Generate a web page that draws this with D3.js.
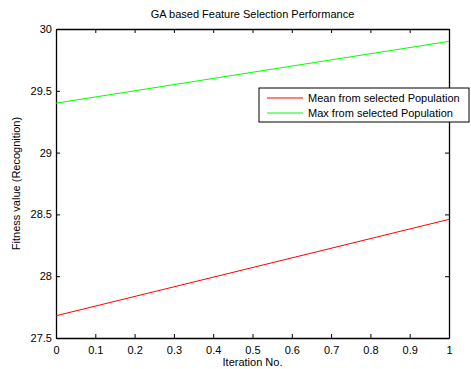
<!DOCTYPE html>
<html>
<head>
<meta charset="utf-8">
<script src="https://cdn.jsdelivr.net/npm/d3@7"></script>
<style>
  body { margin: 0; background: #fff; }
  text { font-family: "Liberation Sans", Arial, sans-serif; }
</style>
</head>
<body>
<div id="chart"></div>
<script>
const iterations = [0, 1];
const meanValues = [27.68, 28.46];
const maxValues = [29.4, 29.9];
const seriesNames = ["Mean from selected Population", "Max from selected Population"];
const xTicks = [0, 0.1, 0.2, 0.3, 0.4, 0.5, 0.6, 0.7, 0.8, 0.9, 1];
const yTicks = [27.5, 28, 28.5, 29, 29.5, 30];

const width = 471, height = 369;
const margin = { left: 56, right: 22, top: 29, bottom: 31 };

const svg = d3.select("#chart").append("svg")
  .attr("width", width)
  .attr("height", height);

const x = d3.scaleLinear().domain([0, 1]).range([margin.left, width - margin.right]);
const y = d3.scaleLinear().domain([27.5, 30]).range([height - margin.bottom, margin.top]);

// axes with inward ticks
const tickLen = 4;
const xAxisBottom = svg.append("g").attr("transform", `translate(0,${y(27.5)})`)
  .call(d3.axisBottom(x).tickValues(xTicks).tickFormat(d3.format("")).tickSizeInner(-tickLen).tickSizeOuter(0).tickPadding(8));
const xAxisTop = svg.append("g").attr("transform", `translate(0,${y(30)})`)
  .call(d3.axisTop(x).tickValues(xTicks).tickFormat("").tickSizeInner(-tickLen).tickSizeOuter(0));
const yAxisLeft = svg.append("g").attr("transform", `translate(${x(0)},0)`)
  .call(d3.axisLeft(y).tickValues(yTicks).tickFormat(d3.format("")).tickSizeInner(-tickLen).tickSizeOuter(0).tickPadding(4));
const yAxisRight = svg.append("g").attr("transform", `translate(${x(1)},0)`)
  .call(d3.axisRight(y).tickValues(yTicks).tickFormat("").tickSizeInner(-tickLen).tickSizeOuter(0));

[xAxisBottom, xAxisTop, yAxisLeft, yAxisRight].forEach(g => {
  g.selectAll(".domain").attr("stroke", "#000").attr("stroke-width", 1.3);
  g.selectAll(".tick line").attr("stroke", "#000");
  g.selectAll(".tick text").attr("font-size", 11).attr("fill", "#000")
    .attr("font-family", "'Liberation Sans', Arial, sans-serif");
});

// lines
const line = d3.line().x((d, i) => x(iterations[i])).y(d => y(d));
svg.append("path").datum(meanValues).attr("d", line)
  .attr("fill", "none").attr("stroke", "#ff0000").attr("stroke-width", 1);
svg.append("path").datum(maxValues).attr("d", line)
  .attr("fill", "none").attr("stroke", "#00ff00").attr("stroke-width", 1);

// title and labels
svg.append("text").attr("x", (x(0) + x(1)) / 2).attr("y", 18)
  .attr("text-anchor", "middle").attr("font-size", 11).text("GA based Feature Selection Performance");
svg.append("text").attr("x", (x(0) + x(1)) / 2).attr("y", 366)
  .attr("text-anchor", "middle").attr("font-size", 11).text("Iteration No.");
svg.append("text").attr("transform", `translate(20,${(y(27.5) + y(30)) / 2}) rotate(-90)`)
  .attr("text-anchor", "middle").attr("font-size", 11).text("Fitness value (Recognition)");

// legend
const lg = svg.append("g").attr("transform", "translate(259,88)");
lg.append("rect").attr("width", 210).attr("height", 34)
  .attr("fill", "#fff").attr("stroke", "#000").attr("stroke-width", 1);
const colors = ["#ff0000", "#00ff00"];
seriesNames.forEach((name, i) => {
  const cy = 10 + i * 15;
  lg.append("line").attr("x1", 8).attr("x2", 44).attr("y1", cy).attr("y2", cy)
    .attr("stroke", colors[i]).attr("stroke-width", 1);
  lg.append("text").attr("x", 49).attr("y", cy + 4).attr("font-size", 11).text(name);
});
</script>
</body>
</html>
